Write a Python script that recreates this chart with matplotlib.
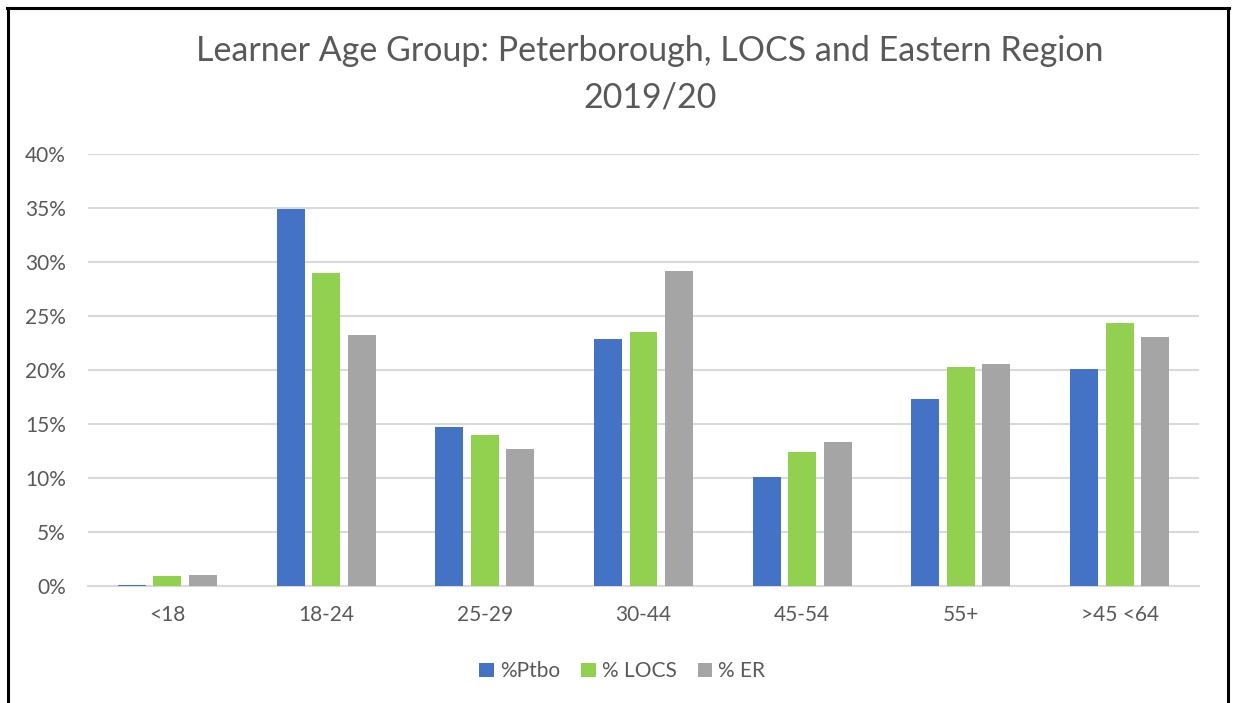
import matplotlib.pyplot as plt
from matplotlib.lines import Line2D
from matplotlib.ticker import PercentFormatter
import numpy as np

# data (percent)
age_groups = ['<18', '18-24', '25-29', '30-44', '45-54', '55+', '>45 <64']
ptbo = [0.13, 34.9, 14.7, 22.85, 10.1, 17.3, 20.1]
locs = [0.9, 28.95, 13.95, 23.55, 12.4, 20.3, 24.35]
er = [1.05, 23.2, 12.65, 29.15, 13.3, 20.6, 23.05]
series_names = ['%Ptbo', '% LOCS', '% ER']

colors = ['#4472C4', '#92D050', '#A5A5A5']
grey_text = '#595959'

plt.rcParams['font.family'] = ['Lato', 'DejaVu Sans']

fig = plt.figure(figsize=(12.33, 7.03), dpi=100)
ax = fig.add_axes([0.0714, 0.1664, 0.901, 0.6146])

x = np.arange(len(age_groups))
step = 0.224
width = 0.176
for i, vals in enumerate([ptbo, locs, er]):
    ax.bar(x + (i - 1) * step, np.array(vals) / 100, width,
           color=colors[i], label=series_names[i], zorder=3)

ax.set_xlim(-0.5, len(age_groups) - 0.5)
ax.set_ylim(0, 0.40)
ax.set_yticks(np.arange(0, 0.41, 0.05))
ax.yaxis.set_major_formatter(PercentFormatter(1.0, decimals=0))
ax.set_xticks(x)
ax.set_xticklabels(age_groups)
ax.tick_params(axis='both', length=0, labelsize=15, colors=grey_text)
ax.tick_params(axis='y', pad=16)
ax.tick_params(axis='x', pad=14)
ax.grid(axis='y', color='#D9D9D9', linewidth=1.5, zorder=0)
for s in ['top', 'right', 'left']:
    ax.spines[s].set_visible(False)
ax.spines['bottom'].set_color('#D9D9D9')
ax.spines['bottom'].set_linewidth(1.5)

fig.text(0.527, 0.927, 'Learner Age Group: Peterborough, LOCS and Eastern Region',
         ha='center', va='center', fontsize=24.5, color=grey_text)
fig.text(0.527, 0.861, '2019/20', ha='center', va='center', fontsize=24.5, color=grey_text)

ax.legend(loc='center', bbox_to_anchor=(0.481, -0.197), ncol=3, frameon=False,
          fontsize=15, labelcolor=grey_text, handlelength=0.7, handleheight=0.7,
          handletextpad=0.3, columnspacing=1.0)

# chart frame (no bottom edge)
fig.add_artist(Line2D([0.0065, 0.0065], [0, 0.988], color='black', lw=2.2))
fig.add_artist(Line2D([0.996, 0.996], [0, 0.988], color='black', lw=2.2))
fig.add_artist(Line2D([0.0057, 0.9968], [0.988, 0.988], color='black', lw=2.2))

plt.savefig('out.png', dpi=100)
